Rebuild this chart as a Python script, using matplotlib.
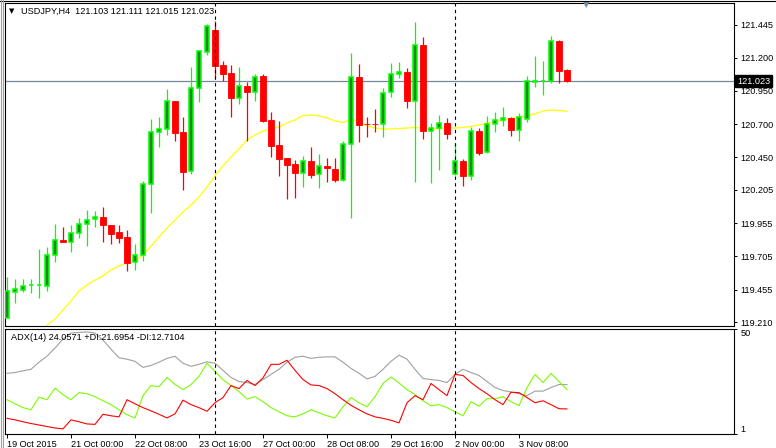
import numpy as np
import matplotlib.pyplot as plt
import matplotlib.transforms as mtransforms
from matplotlib.lines import Line2D

plt.rcParams['font.family'] = ['Liberation Sans', 'DejaVu Sans']

# USDJPY H4 bars, 19 Oct 2015 16:00 onwards
open_ = [119.244, 119.439, 119.452, 119.490, 119.490, 119.485, 119.715, 119.826, 119.811, 119.879,
         119.946, 119.986, 120.001, 119.941, 119.886, 119.851, 119.661, 119.715, 120.247, 120.638,
         120.661, 120.871, 120.640, 120.347, 120.969, 121.244, 121.407, 121.144, 121.084, 120.898,
         120.986, 120.943, 121.062, 120.731, 120.543, 120.445, 120.400, 120.334, 120.422, 120.322,
         120.385, 120.362, 120.282, 120.548, 121.054, 120.700, 120.700, 120.698, 120.939, 121.074,
         121.092, 120.876, 121.292, 120.650, 120.668, 120.706, 120.322, 120.422, 120.312, 120.648,
         120.492, 120.698, 120.728, 120.743, 120.657, 120.740, 121.016, 121.026, 121.024, 121.325,
         121.103]
high_ = [119.552, 119.535, 119.535, 119.535, 119.761, 119.778, 119.949, 119.928, 119.941, 119.991,
         120.054, 120.049, 120.079, 119.941, 119.941, 119.903, 119.796, 120.272, 120.738, 120.753,
         120.964, 120.871, 120.753, 121.131, 121.257, 121.453, 121.477, 121.174, 121.144, 121.131,
         121.014, 121.077, 121.077, 120.789, 120.723, 120.445, 120.430, 120.462, 120.525, 120.475,
         120.443, 120.445, 120.573, 121.232, 121.150, 120.751, 120.813, 120.969, 121.157, 121.165,
         121.124, 121.465, 121.355, 120.706, 120.768, 120.743, 120.560, 120.437, 120.680, 120.668,
         120.761, 120.789, 120.828, 120.753, 120.786, 121.064, 121.212, 121.174, 121.362, 121.332,
         121.111]
low_ = [119.239, 119.357, 119.437, 119.430, 119.394, 119.447, 119.665, 119.811, 119.740, 119.841,
        119.785, 119.928, 119.815, 119.798, 119.808, 119.597, 119.603, 119.673, 120.034, 120.530,
        120.618, 120.573, 120.204, 120.325, 120.868, 121.219, 121.046, 121.024, 120.755, 120.851,
        120.573, 120.876, 120.718, 120.455, 120.312, 120.137, 120.146, 120.229, 120.292, 120.222,
        120.267, 120.267, 120.272, 119.991, 120.563, 120.605, 120.643, 120.605, 120.906, 121.049,
        120.823, 120.267, 120.588, 120.259, 120.355, 120.588, 120.317, 120.237, 120.279, 120.467,
        120.482, 120.643, 120.688, 120.610, 120.573, 120.713, 120.981, 120.919, 121.011, 121.011,
        121.015]
close_ = [119.445, 119.460, 119.482, 119.492, 119.491, 119.715, 119.826, 119.811, 119.879, 119.949,
          119.979, 120.001, 119.943, 119.876, 119.846, 119.653, 119.715, 120.247, 120.638, 120.661,
          120.871, 120.635, 120.342, 120.969, 121.250, 121.438, 121.137, 121.079, 120.898, 120.986,
          120.943, 121.054, 120.723, 120.537, 120.437, 120.392, 120.334, 120.422, 120.317, 120.382,
          120.367, 120.282, 120.548, 121.054, 120.693, 120.698, 120.699, 120.931, 121.074, 121.092,
          120.876, 121.292, 120.650, 120.668, 120.706, 120.628, 120.422, 120.312, 120.648, 120.482,
          120.700, 120.728, 120.743, 120.655, 120.751, 121.022, 121.026, 121.027, 121.325, 121.100,
          121.023]

# yellow moving average, visible from bar 5
ma_start = 5
ma = [119.189, 119.234, 119.302, 119.370, 119.445, 119.490, 119.527, 119.558, 119.603, 119.633,
      119.655, 119.670, 119.715, 119.783, 119.851, 119.918, 119.979, 120.039, 120.091, 120.152,
      120.227, 120.310, 120.385, 120.452, 120.513, 120.580, 120.618, 120.648, 120.663, 120.678,
      120.708, 120.731, 120.764, 120.768, 120.761, 120.746, 120.723, 120.712, 120.734, 120.723,
      120.686, 120.670, 120.663, 120.663, 120.667, 120.670, 120.674, 120.667, 120.663, 120.667,
      120.670, 120.670, 120.674, 120.682, 120.693, 120.708, 120.716, 120.731, 120.742, 120.753,
      120.761, 120.776, 120.798, 120.806, 120.802, 120.795]

# ADX(14)
adx = [29.3, 29.7, 30.5, 31.2, 34.5, 37.3, 41.1, 45.3, 48.1, 48.4,
       48.6, 48.1, 44.8, 40.6, 36.6, 35.9, 34.9, 32.1, 33.0, 34.5,
       36.3, 37.3, 34.0, 32.6, 33.5, 34.7, 34.0, 30.7, 27.4, 25.5,
       25.0, 24.1, 26.4, 28.8, 31.2, 34.5, 36.8, 37.3, 36.3, 36.8,
       37.0, 37.0, 34.5, 31.6, 29.3, 26.7, 27.9, 31.2, 34.9, 37.8,
       35.9, 31.2, 26.9, 26.4, 26.0, 25.0, 28.8, 31.2, 29.7, 28.3,
       25.5, 22.7, 21.3, 20.6, 19.8, 18.9, 21.0, 21.0, 22.7, 24.1,
       24.06]
plus_di = [17.0, 15.1, 13.3, 12.3, 18.2, 17.0, 22.4, 19.4, 17.0, 20.3,
           19.8, 18.4, 16.5, 14.7, 12.3, 10.0, 8.5, 18.9, 23.6, 23.1,
           27.4, 24.1, 21.7, 24.1, 27.9, 34.0, 30.2, 26.4, 23.6, 20.8,
           17.3, 18.4, 16.1, 13.3, 11.4, 9.5, 9.0, 10.4, 12.3, 10.9,
           9.5, 8.5, 13.7, 18.0, 15.6, 13.7, 18.4, 24.6, 27.6, 24.8,
           21.7, 19.4, 16.5, 14.2, 14.7, 13.3, 11.4, 9.5, 16.1, 14.0,
           17.5, 17.5, 18.4, 16.1, 14.2, 22.7, 28.8, 25.0, 29.3, 25.5,
           21.7]
minus_di = [8.3, 7.6, 6.7, 5.9, 5.2, 4.5, 3.8, 3.4, 7.6, 6.7,
            5.7, 5.5, 10.2, 9.5, 9.0, 17.0, 15.1, 13.3, 11.8, 10.2,
            8.5, 10.4, 16.8, 14.7, 13.3, 11.6, 15.6, 18.0, 23.6, 22.2,
            26.0, 23.6, 27.2, 33.5, 33.5, 35.4, 30.7, 26.4, 23.9, 23.6,
            22.2, 19.8, 17.0, 14.4, 12.3, 10.4, 9.0, 8.3, 7.4, 6.2,
            15.6, 18.9, 17.0, 24.6, 21.7, 18.9, 28.8, 28.3, 25.0, 22.2,
            19.8, 17.0, 14.7, 20.5, 20.3, 18.0, 15.6, 16.5, 14.7, 12.8,
            12.7]

price_ticks = [121.445, 121.200, 120.950, 120.700, 120.450, 120.205, 119.955, 119.705, 119.455, 119.210]
time_ticks = [0, 8, 16, 24, 32, 40, 48, 56, 64]
time_labels = ['19 Oct 2015', '21 Oct 00:00', '22 Oct 08:00', '23 Oct 16:00', '27 Oct 00:00',
               '28 Oct 08:00', '29 Oct 16:00', '2 Nov 00:00', '3 Nov 08:00']
week_starts = [26, 56]

fs = 6.6
W, H = 776, 448
fig = plt.figure(figsize=(W / 100, H / 100), dpi=100)
ax1 = fig.add_axes([5 / W, 1 - 326 / H, 729 / W, 323 / H])
ax2 = fig.add_axes([5 / W, 14 / H, 729 / W, 105 / H], sharex=ax1)

x = np.arange(len(open_))
o = np.array(open_)
hi = np.array(high_)
lo = np.array(low_)
c = np.array(close_)
up = c >= o
dn = ~up

ax1.vlines(x[up], lo[up], hi[up], color='#00ff00', lw=0.9, zorder=2)
ax1.vlines(x[dn], lo[dn], hi[dn], color='#ff0000', lw=0.9, zorder=2)
ax1.bar(x[up], c[up] - o[up], bottom=o[up], width=0.62, color='#1e8a1e',
        edgecolor='#00ff00', lw=1.1, zorder=3)
ax1.bar(x[dn], c[dn] - o[dn], bottom=o[dn], width=0.66, color='#ff0000',
        edgecolor='#ff0000', lw=0.6, zorder=3)

ax1.plot(x[ma_start:], ma, color='#ffff00', lw=0.9, zorder=1)
ax1.axhline(close_[-1], color='#778899', lw=0.9, zorder=1)

for b in week_starts:
    for ax in (ax1, ax2):
        ax.axvline(b, color='black', ls=(0, (3, 3)), lw=0.8, zorder=4)

ax1.set_xlim(-0.25, 90.875)
ax1.set_ylim(119.1815, 121.610)
ax1.yaxis.tick_right()
ax1.set_yticks(price_ticks)
ax1.set_yticklabels(['%.3f' % p for p in price_ticks])
ax1.tick_params(axis='y', direction='out', length=2.5, width=0.7, labelsize=fs, pad=2)
ax1.tick_params(axis='x', length=0, labelbottom=False)

# current price box
tr = mtransforms.blended_transform_factory(ax1.transAxes, ax1.transData)
ax1.text(1.004, close_[-1], '%.3f' % close_[-1], transform=tr, color='white', fontsize=fs,
         va='center', ha='left', clip_on=False, zorder=10,
         bbox=dict(boxstyle='square,pad=0.18', fc='black', ec='black'))

# header text
ax1.annotate('\u25BC', xy=(0, 1), xycoords='axes fraction', xytext=(7, -8),
             textcoords='offset pixels', fontsize=5, ha='center', va='center',
             family=['DejaVu Sans'])
ax1.annotate('USDJPY,H4  %.3f %.3f %.3f %.3f' % (open_[-1], high_[-1], low_[-1], close_[-1]),
             xy=(0, 1), xycoords='axes fraction', xytext=(16, -8), textcoords='offset pixels',
             fontsize=fs, ha='left', va='center')
ax1.annotate('\u25BC', xy=(0, 1), xycoords='axes fraction', xytext=(581, -2),
             textcoords='offset pixels', fontsize=6, ha='center', va='center',
             color='#778899', family=['DejaVu Sans'], annotation_clip=False)

# ADX panel
ax2.plot(x, adx, color='#a0a0a0', lw=0.8)
ax2.plot(x, plus_di, color='#7cfc00', lw=0.8)
ax2.plot(x, minus_di, color='#ff0000', lw=0.8)
ax2.set_ylim(1, 50)
ax2.yaxis.tick_right()
ax2.set_yticks([50, 1])
ax2.set_yticklabels(['50', '1'])
lbls = ax2.get_yticklabels()
lbls[0].set_va('top')
lbls[1].set_va('bottom')
ax2.tick_params(axis='y', direction='out', length=2.5, width=0.7, labelsize=fs, pad=2)
ax2.set_xticks(time_ticks)
ax2.set_xticklabels(time_labels, ha='left')
ax2.tick_params(axis='x', direction='out', length=3, width=0.7, labelsize=fs, pad=1)
ax2.annotate('ADX(14) %.4f +DI:%.4f -DI:%.4f' % (24.0571, 21.6954, 12.7104),
             xy=(0, 1), xycoords='axes fraction', xytext=(6, -8), textcoords='offset pixels',
             fontsize=fs, ha='left', va='center')

for ax in (ax1, ax2):
    for s in ax.spines.values():
        s.set_linewidth(0.8)
        s.set_color('black')

# outer frame lines
fig.add_artist(Line2D([0, 1], [1 - 1 / H, 1 - 1 / H], color='black', lw=0.8))
fig.add_artist(Line2D([0.5 / W, 0.5 / W], [0, 1], color='#a0a0a0', lw=0.8))
fig.add_artist(Line2D([2.5 / W, 2.5 / W], [0, 1], color='#a0a0a0', lw=0.8))

fig.savefig('out.png', dpi=100, facecolor='white')
